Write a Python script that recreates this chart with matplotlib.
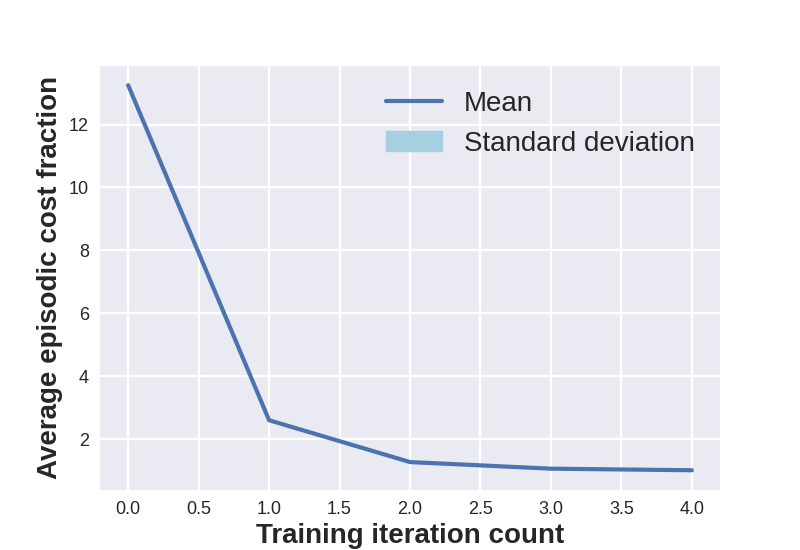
import numpy as np
import matplotlib
matplotlib.use("Agg")
import matplotlib.pyplot as plt

plt.style.use("seaborn-v0_8-darkgrid")
plt.rcParams["font.family"] = ["Liberation Sans", "DejaVu Sans"]
plt.rcParams["grid.linewidth"] = 1.6

# mean episodic cost fraction per training iteration
iterations = [0, 1, 2, 3, 4]
mean_cost = [13.25, 2.6, 1.27, 1.06, 1.01]
std_cost = [0.0, 0.0, 0.0, 0.0, 0.0]

mean_cost = np.array(mean_cost)
std_cost = np.array(std_cost)

fig, ax = plt.subplots(figsize=(8, 5.5), dpi=100)
ax.plot(iterations, mean_cost, color="#4C72B0", linewidth=3, label="Mean")
ax.fill_between(iterations, mean_cost - std_cost, mean_cost + std_cost,
                color="#a6cfdf", alpha=1.0, label="Standard deviation")

ax.set_xlabel("Training iteration count", fontsize=20, fontweight="bold")
ax.set_ylabel("Average episodic cost fraction", fontsize=20, fontweight="bold")
ax.tick_params(labelsize=13, pad=8)
ax.legend(fontsize=20, frameon=False, loc="upper right")

fig.savefig("out.png", dpi=100)
